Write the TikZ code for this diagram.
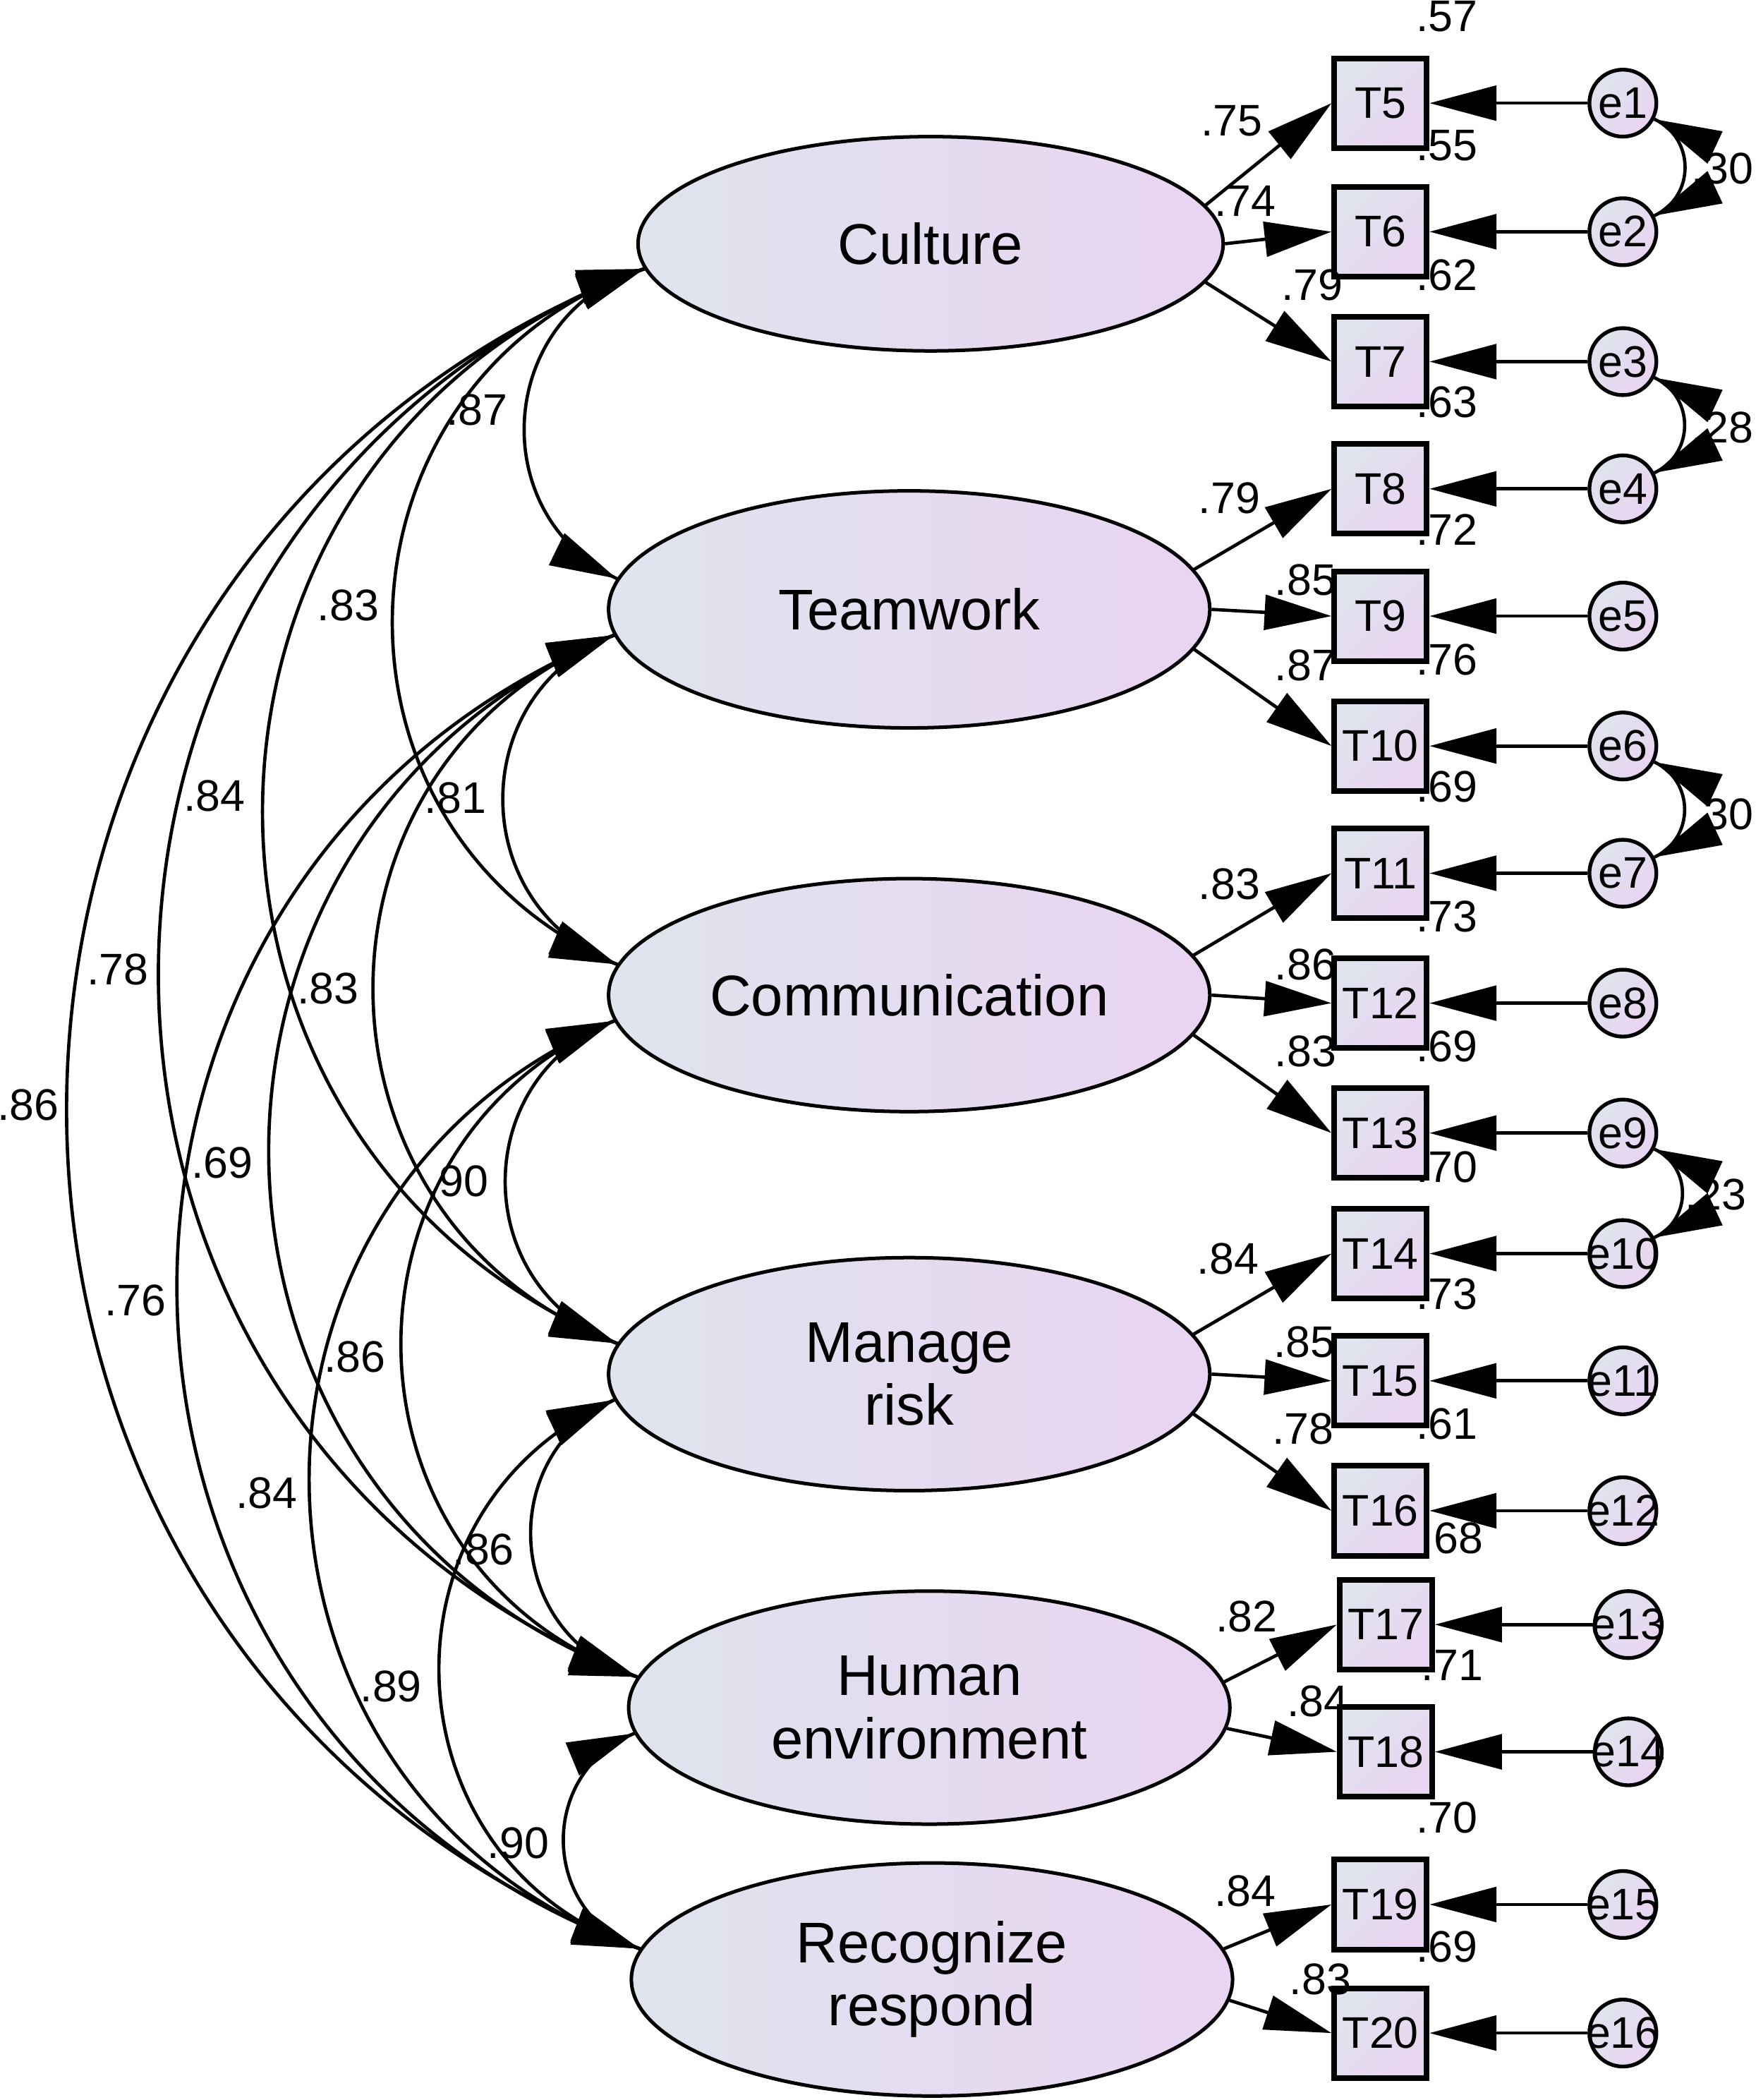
\documentclass[tikz,border=0pt]{standalone}
\usepackage{fontspec}
\setmainfont{Liberation Sans}
\usetikzlibrary{arrows.meta,positioning,shapes.geometric,decorations.markings}

\definecolor{shadeA}{RGB}{223,228,237}
\definecolor{shadeB}{RGB}{233,212,242}

\tikzset{
  tips/.style={postaction={decorate},decoration={markings,
    mark=at position 0 with {\arrowreversed{Triangle[length=5mm,width=2.6mm]}},
    mark=at position 0.9995 with {\arrow{Triangle[length=5mm,width=2.6mm]}}}}
}

\begin{document}
\begin{tikzpicture}[x=0.1mm,y=-0.1mm,node distance=18.1mm,on grid,
  latent/.style={ellipse,draw,line width=.75pt,inner sep=0pt,
    minimum width=44.9mm,minimum height=17.4mm,left color=shadeA,right color=shadeB,
    align=center,font=\fontsize{12.2}{13.4}\selectfont},
  obs/.style={rectangle,draw,line width=1.2pt,inner sep=0pt,
    minimum width=6.9mm,minimum height=6.7mm,top color=shadeA,bottom color=shadeB,
    shading angle=45,font=\fontsize{9.4}{11}\selectfont},
  err/.style={circle,draw,line width=.8pt,inner sep=0pt,minimum size=5mm,
    top color=shadeA,bottom color=shadeB,shading angle=45,font=\fontsize{9.4}{11}\selectfont},
  num/.style={inner sep=0pt,font=\fontsize{9.4}{11}\selectfont},
  load/.style={-{Triangle[length=5mm,width=2.6mm]},line width=.7pt},
  cov/.style={line width=.7pt,bend right=69,looseness=1.25,tips},
  ecov/.style={line width=.7pt,out=-25,in=25,looseness=1.2,tips}]

\useasboundingbox (0,0) rectangle (1311,1568);

% latent factors
\node[latent,minimum width=43.7mm,minimum height=16mm] (cul) at (695,182) {Culture};
\node[latent,minimum height=17.7mm] (team) at (679,455) {Teamwork};
\node[latent] (comm) at (679,743) {Communication};
\node[latent] (mgr) at (679,1026) {Manage\\risk};
\node[latent] (hum) at (694,1275) {Human\\environment};
\node[latent] (rec) at (696,1478) {Recognize\\respond};

% observed items
\node[obs] (T5) at (1031,77) {T5};
\node[obs] (T6) at (1031,173) {T6};
\node[obs] (T7) at (1031,270) {T7};
\node[obs] (T8) at (1031,365) {T8};
\node[obs] (T9) at (1031,460) {T9};
\node[obs] (T10) at (1031,557) {T10};
\node[obs] (T11) at (1031,652) {T11};
\node[obs] (T12) at (1031,749) {T12};
\node[obs] (T13) at (1031,846) {T13};
\node[obs] (T14) at (1031,936) {T14};
\node[obs] (T15) at (1031,1031) {T15};
\node[obs] (T16) at (1031,1128) {T16};
\node[obs] (T17) at (1035,1213) {T17};
\node[obs] (T18) at (1035,1308) {T18};
\node[obs] (T19) at (1031,1422) {T19};
\node[obs] (T20) at (1031,1518) {T20};

% error terms
\node[err] (e1) [right=of T5] {\makebox[0pt]{e1}};
\node[err] (e2) [right=of T6] {\makebox[0pt]{e2}};
\node[err] (e3) [right=of T7] {\makebox[0pt]{e3}};
\node[err] (e4) [right=of T8] {\makebox[0pt]{e4}};
\node[err] (e5) [right=of T9] {\makebox[0pt]{e5}};
\node[err] (e6) [right=of T10] {\makebox[0pt]{e6}};
\node[err] (e7) [right=of T11] {\makebox[0pt]{e7}};
\node[err] (e8) [right=of T12] {\makebox[0pt]{e8}};
\node[err] (e9) [right=of T13] {\makebox[0pt]{e9}};
\node[err] (e10) [right=of T14] {\makebox[0pt]{e10}};
\node[err] (e11) [right=of T15] {\makebox[0pt]{e11}};
\node[err] (e12) [right=of T16] {\makebox[0pt]{e12}};
\node[err] (e13) [right=of T17] {\makebox[0pt]{e13}};
\node[err] (e14) [right=of T18] {\makebox[0pt]{e14}};
\node[err] (e15) [right=of T19] {\makebox[0pt]{e15}};
\node[err] (e16) [right=of T20] {\makebox[0pt]{e16}};

% loadings and error paths
\path[load]
  (cul.8) edge (T5.west)
  (cul.0) edge (T6.west)
  (cul.352) edge (T7.west)
  (team.8) edge (T8.west)
  (team.0) edge (T9.west)
  (team.352) edge (T10.west)
  (comm.8) edge (T11.west)
  (comm.0) edge (T12.west)
  (comm.352) edge (T13.west)
  (mgr.8) edge (T14.west)
  (mgr.0) edge (T15.west)
  (mgr.352) edge (T16.west)
  (hum.5) edge (T17.west)
  (hum.356) edge (T18.west)
  (rec.6) edge (T19.west)
  (rec.356) edge (T20.west)
  (e1) edge (T5) (e2) edge (T6) (e3) edge (T7) (e4) edge (T8)
  (e5) edge (T9) (e6) edge (T10) (e7) edge (T11) (e8) edge (T12)
  (e9) edge (T13) (e10) edge (T14) (e11) edge (T15) (e12) edge (T16)
  (e13) edge (T17) (e14) edge (T18) (e15) edge (T19) (e16) edge (T20);

% standardized loadings
\node[num] (l5) at (920,90) {.75};
\node[num] (l6) at (930,150) {.74};
\node[num] (l7) at (980,213) {.79};
\node[num] (l8) at (918,372) {.79};
\node[num] (l9) at (975,433) {.85};
\node[num] (l10) at (975,497) {.87};
\node[num] (l11) at (918,660) {.83};
\node[num] (l12) at (975,720) {.86};
\node[num] (l13) at (975,785) {.83};
\node[num] (l14) at (917,940) {.84};
\node[num] (l15) at (974,1002) {.85};
\node[num] (l16) at (973,1067) {.78};
\node[num] (l17) at (931,1207) {.82};
\node[num] (l18) at (984,1270) {.84};
\node[num] (l19) at (930,1412) {.84};
\node[num] (l20) at (986,1478) {.83};

% squared multiple correlations
\node[num] (r5) [above right=2.9mm and 1.3mm of T5.north east,anchor=center] {.57};
\node[num] (r6) [above right=2.9mm and 1.3mm of T6.north east,anchor=center] {.55};
\node[num] (r7) [above right=2.9mm and 1.3mm of T7.north east,anchor=center] {.62};
\node[num] (r8) [above right=2.9mm and 1.3mm of T8.north east,anchor=center] {.63};
\node[num] (r9) [above right=2.9mm and 1.3mm of T9.north east,anchor=center] {.72};
\node[num] (r10) [above right=2.9mm and 1.3mm of T10.north east,anchor=center] {.76};
\node[num] (r11) [above right=2.9mm and 1.3mm of T11.north east,anchor=center] {.69};
\node[num] (r12) [above right=2.9mm and 1.3mm of T12.north east,anchor=center] {.73};
\node[num] (r13) [above right=2.9mm and 1.3mm of T13.north east,anchor=center] {.69};
\node[num] (r14) [above right=2.9mm and 1.3mm of T14.north east,anchor=center] {.70};
\node[num] (r15) [above right=2.9mm and 1.3mm of T15.north east,anchor=center] {.73};
\node[num] (r16) [above right=2.9mm and 1.3mm of T16.north east,anchor=center] {.61};
\node[num] (r17) [above right=2.9mm and 1.3mm of T17.north east,anchor=center] {.68};
\node[num] (r18) [above right=2.9mm and 1.3mm of T18.north east,anchor=center] {.71};
\node[num] (r19) [above right=2.9mm and 1.3mm of T19.north east,anchor=center] {.70};
\node[num] (r20) [above right=2.9mm and 1.3mm of T20.north east,anchor=center] {.69};

% factor correlations
\draw[cov] (cul.185) to (team.174);
\draw[cov] (cul.185) to (comm.174);
\draw[cov] (cul.185) to (mgr.174);
\draw[cov] (cul.185) to (hum.174);
\draw[cov] (cul.185) to (rec.174);
\draw[cov] (team.185) to (comm.174);
\draw[cov] (team.185) to (mgr.174);
\draw[cov] (team.185) to (hum.174);
\draw[cov] (team.185) to (rec.174);
\draw[cov] (comm.185) to (mgr.174);
\draw[cov] (comm.185) to (hum.174);
\draw[cov] (comm.185) to (rec.174);
\draw[cov] (mgr.185) to (hum.174);
\draw[cov] (mgr.185) to (rec.174);
\draw[cov] (hum.185) to (rec.174);

\node[num] (c12) at (356,306) {.87};
\node[num] (c13) at (260,452) {.83};
\node[num] (c14) at (160,594) {.84};
\node[num] (c15) at (88,724) {.78};
\node[num] (c16) at (21,825) {.86};
\node[num] (c23) at (340,596) {.81};
\node[num] (c24) at (245,738) {.83};
\node[num] (c25) at (166,868) {.69};
\node[num] (c26) at (101,971) {.76};
\node[num] (c34) at (342,882) {.90};
\node[num] (c35) at (265,1013) {.86};
\node[num] (c36) at (199,1115) {.84};
\node[num] (c45) at (361,1157) {.86};
\node[num] (c46) at (292,1259) {.89};
\node[num] (c56) at (387,1376) {.90};

% error covariances
\node[num,anchor=east] (k12) at (1310,126) {.30};
\node[num,anchor=east] (k34) at (1310,319) {.28};
\node[num,anchor=east] (k67) at (1310,608) {.30};
\node[num,anchor=east] (k910) at (1305,892) {.23};
\draw[ecov] (e1.333) to (e2.27);
\draw[ecov] (e3.333) to (e4.27);
\draw[ecov] (e6.333) to (e7.27);
\draw[ecov] (e9.333) to (e10.27);
\end{tikzpicture}
\end{document}
